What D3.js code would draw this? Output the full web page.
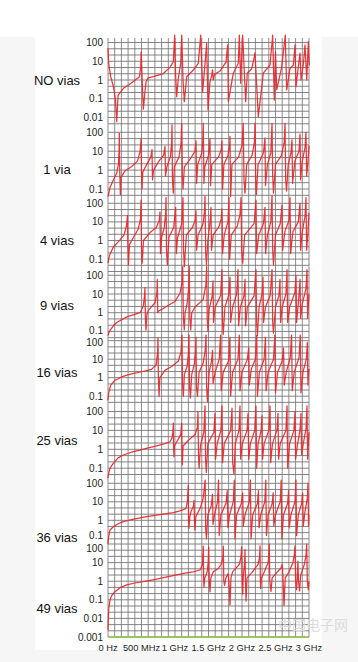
<!DOCTYPE html>
<html><head><meta charset="utf-8">
<script src="https://cdn.jsdelivr.net/npm/d3@7"></script>
<style>
html,body{margin:0;padding:0;background:#f6f6f6;}
svg{display:block;font-family:"Liberation Sans",Arial,Helvetica,sans-serif;}
</style>
</head><body>
<svg id="chart" width="358" height="662"></svg>
<script>
// ---- data (frequency in MHz, impedance magnitude in ohm) ----
const panelNames = ["NO vias","1 via","4 vias","9 vias","16 vias","25 vias","36 vias","49 vias"];
const freqTicks = [0,500,1000,1500,2000,2500,3000];
const freqTickLabels = ["0 Hz","500 MHz","1 GHz","1.5 GHz","2 GHz","2.5 GHz","3 GHz"];

const noVias = [[0,50],[10,8],[40,1.5],[80,0.45],[110,0.1],[130,0.006],[150,0.15],[230,0.36],[350,0.7],[470,1.5],[488,5],[495,32],[510,1],[527,0.028],[567,0.8],[600,1.3],[676,1.5],[825,2.2],[925,4.7],[975,9.5],[995,250],[1010,1.5],[1025,0.13],[1049,1.2],[1085,7.7],[1100,250],[1120,1],[1139,0.07],[1175,1.5],[1273,3.4],[1348,7.8],[1384,250],[1413,0.24],[1473,90],[1493,0.025],[1522,0.8],[1548,1.8],[1560,3.5],[1570,1],[1590,2],[1672,3],[1760,9],[1787,74],[1796,0.07],[1870,2.3],[1945,7.8],[1960,250],[1980,0.67],[2010,250],[2055,0.07],[2079,2.3],[2145,4],[2180,15],[2194,28],[2243,0.011],[2318,2.3],[2418,6.3],[2458,250],[2482,0.085],[2500,32],[2518,0.3],[2593,5],[2646,250],[2667,0.3],[2716,4],[2766,6.3],[2791,74],[2806,0.44],[2840,5],[2866,27],[2881,1],[2915,6.3],[2940,74],[2966,1],[2990,110],[3004,6]];

const oneVia = [[0,0.04],[30,0.12],[80,0.3],[130,0.7],[155,2],[165,10],[169,90],[175,1],[185,0.05],[195,0.4],[250,0.9],[350,1.5],[440,3],[480,10],[493,45],[500,1],[508,0.1],[520,0.8],[580,2],[640,5],[657,12],[664,0.3],[680,1],[760,3],[830,6],[851,18],[858,0.5],[880,1.5],[930,5],[950,30],[955,250],[962,0.3],[975,0.06],[990,1.5],[1060,5],[1090,25],[1100,300],[1110,0.5],[1120,0.1],[1140,1.5],[1230,4],[1300,10],[1313,35],[1322,0.2],[1340,2],[1400,8],[1415,40],[1422,300],[1432,0.2],[1445,1.5],[1500,6],[1522,45],[1530,0.15],[1550,2],[1650,5],[1690,12],[1701,35],[1710,0.1],[1730,2],[1790,6],[1815,20],[1821,60],[1830,0.04],[1850,2],[1950,5],[2000,20],[2019,300],[2030,0.3],[2045,0.06],[2070,2],[2150,6],[2185,30],[2194,300],[2205,0.3],[2215,0.05],[2240,2],[2320,8],[2343,50],[2350,0.15],[2380,2],[2430,8],[2448,300],[2458,0.5],[2470,0.06],[2500,2],[2590,6],[2630,30],[2642,300],[2652,0.3],[2665,0.08],[2690,2],[2730,8],[2746,40],[2755,0.2],[2790,3],[2850,10],[2866,80],[2875,0.3],[2900,3],[2940,15],[2955,100],[2965,0.5],[2985,3],[3000,20]];

const fourVias = [[0,0.06],[20,0.15],[80,0.45],[160,0.9],[240,2],[275,6],[291,22],[297,0.5],[305,0.05],[320,0.6],[380,1.5],[450,4],[485,15],[493,150],[500,0.4],[510,0.06],[530,1],[620,2.5],[720,5],[765,12],[776,35],[783,0.2],[800,1.5],[840,5],[860,30],[866,200],[873,0.3],[885,0.05],[910,1.5],[980,5],[1010,60],[1020,0.2],[1040,1.5],[1100,8],[1119,200],[1127,0.3],[1140,0.04],[1170,2],[1260,5],[1300,12],[1313,40],[1322,0.3],[1345,2],[1420,8],[1440,40],[1448,250],[1458,0.2],[1470,0.05],[1490,1],[1520,8],[1537,60],[1545,0.3],[1570,2],[1660,6],[1690,15],[1701,50],[1710,0.2],[1735,2],[1790,10],[1806,200],[1815,0.1],[1840,2],[1930,6],[1970,25],[1985,200],[1995,0.3],[2010,0.06],[2040,2],[2180,8],[2209,150],[2218,0.2],[2250,2],[2320,8],[2343,60],[2352,0.2],[2380,2],[2430,10],[2448,250],[2458,0.3],[2470,0.05],[2500,2],[2570,8],[2597,80],[2606,0.3],[2640,3],[2700,12],[2716,200],[2726,0.2],[2760,3],[2840,10],[2866,100],[2875,0.3],[2900,3],[2940,20],[2955,200],[2965,0.3],[2985,3],[3000,30]];

const nineVias = [[0,0.06],[20,0.1],[80,0.2],[130,0.3],[280,0.6],[480,1],[527,2.3],[545,8],[552,22],[558,0.5],[567,0.12],[580,0.8],[601,1.3],[701,3.4],[730,12],[736,60],[742,1],[751,1.2],[800,1.5],[900,2.5],[1000,4],[1075,11],[1105,40],[1115,300],[1125,0.5],[1139,0.12],[1150,1],[1180,3],[1205,20],[1213,300],[1222,0.5],[1234,0.12],[1250,1],[1300,2],[1420,5],[1460,30],[1473,300],[1482,0.4],[1492,0.1],[1510,1.5],[1555,8],[1567,50],[1575,0.3],[1600,2],[1680,8],[1701,200],[1710,0.3],[1720,0.07],[1745,2],[1800,8],[1821,80],[1830,0.3],[1860,2],[1920,10],[1940,200],[1950,0.2],[1975,2],[2030,8],[2045,60],[2053,0.2],[2080,2],[2180,8],[2209,200],[2218,0.3],[2230,0.06],[2255,2],[2300,10],[2313,80],[2322,0.3],[2350,2],[2420,8],[2448,200],[2458,0.3],[2470,0.08],[2500,2],[2550,8],[2567,60],[2576,0.3],[2600,2],[2655,10],[2672,200],[2682,0.3],[2710,2],[2790,12],[2806,100],[2815,0.3],[2840,3],[2855,15],[2866,60],[2875,0.5],[2900,3],[2955,20],[2970,200],[2980,0.5],[3000,10]];

const sixteenVias = [[0,0.06],[10,0.15],[40,0.4],[100,0.7],[200,1.1],[350,1.6],[500,2.1],[650,2.8],[720,5],[740,25],[746,140],[752,1],[762,0.1],[775,1],[850,2.5],[950,4],[1050,8],[1090,25],[1104,200],[1112,0.4],[1124,0.1],[1140,1.5],[1180,4],[1200,20],[1209,200],[1218,0.3],[1230,0.08],[1250,1.5],[1290,6],[1305,25],[1313,150],[1321,0.3],[1335,0.1],[1360,2],[1420,6],[1450,30],[1463,200],[1472,0.3],[1485,0.05],[1510,2],[1545,8],[1560,30],[1568,0.5],[1600,2],[1660,10],[1680,200],[1690,0.2],[1720,2],[1800,8],[1820,150],[1830,0.1],[1860,2],[1940,10],[1960,200],[1970,0.2],[2000,2],[2080,10],[2100,40],[2108,0.4],[2140,3],[2200,10],[2220,200],[2230,0.1],[2260,2],[2330,10],[2350,150],[2360,0.2],[2390,2],[2470,10],[2490,200],[2500,0.15],[2530,2],[2600,8],[2620,40],[2630,0.4],[2660,2],[2720,12],[2740,200],[2750,0.2],[2780,2],[2850,12],[2870,200],[2880,0.15],[2910,2],[2960,10],[2975,80],[2985,0.4],[3000,3]];

const twentyFiveVias = [[0,0.03],[4,0.044],[30,0.1],[79,0.18],[150,0.35],[228,0.5],[350,0.7],[478,0.9],[600,1.2],[727,1.5],[850,2],[925,2.5],[955,4],[968,8],[975,24],[980,1],[985,0.4],[992,1.5],[1040,3],[1085,6],[1100,24],[1104,1],[1109,0.15],[1120,1.5],[1200,3],[1300,6],[1335,15],[1343,100],[1350,0.5],[1360,0.1],[1380,1.5],[1430,8],[1448,200],[1456,0.3],[1468,0.06],[1490,2],[1580,8],[1597,80],[1605,0.3],[1630,2],[1685,10],[1701,200],[1710,0.2],[1735,2],[1830,10],[1851,150],[1860,0.2],[1880,0.05],[1900,2],[1955,10],[1970,200],[1980,0.3],[2005,2],[2075,10],[2090,80],[2100,0.3],[2125,2],[2190,10],[2209,200],[2218,0.1],[2240,2],[2285,10],[2298,60],[2306,0.3],[2330,2],[2400,10],[2418,200],[2428,0.2],[2455,2],[2520,10],[2537,80],[2546,0.3],[2570,2],[2655,10],[2672,200],[2682,0.1],[2710,2],[2775,10],[2791,100],[2800,0.3],[2830,2],[2865,10],[2881,80],[2890,0.5],[2915,2],[2955,12],[2970,200],[2980,0.3],[3000,8]];

const thirtySixVias = [[0,0.05],[4,0.1],[30,0.3],[79,0.45],[150,0.65],[228,0.84],[400,1.2],[578,1.6],[800,2.1],[975,2.6],[1100,3.4],[1164,4.4],[1185,10],[1198,80],[1203,1],[1209,0.37],[1220,1.5],[1240,3],[1275,6],[1284,12],[1290,1],[1298,0.3],[1310,1.5],[1380,5],[1420,15],[1450,150],[1458,0.3],[1470,0.1],[1490,2],[1540,6],[1560,25],[1568,0.6],[1590,2],[1635,10],[1650,150],[1660,0.15],[1685,2],[1760,8],[1780,40],[1790,0.4],[1815,2],[1870,10],[1885,150],[1895,0.1],[1920,2],[1990,8],[2010,30],[2020,0.5],[2045,2],[2110,10],[2125,150],[2135,0.1],[2160,2],[2230,8],[2245,40],[2255,0.4],[2280,2],[2340,10],[2355,150],[2365,0.15],[2390,2],[2450,8],[2465,30],[2475,0.5],[2500,2],[2570,10],[2585,150],[2595,0.1],[2620,2],[2680,8],[2695,40],[2705,0.4],[2730,2],[2790,10],[2805,150],[2815,0.15],[2840,2],[2890,8],[2905,30],[2915,0.5],[2940,3],[2975,15],[2985,100],[2993,0.5],[3000,2]];

const fortyNineVias = [[0,0.0024],[10,0.03],[30,0.1],[60,0.18],[104,0.27],[180,0.45],[279,0.63],[400,0.8],[527,0.94],[650,1.15],[776,1.4],[900,1.75],[1025,2.2],[1150,2.7],[1273,3.2],[1373,4],[1410,8],[1422,78],[1428,1],[1433,0.5],[1445,1.5],[1480,3.2],[1495,10],[1503,70],[1512,1],[1522,0.27],[1535,1.5],[1572,3.2],[1650,5],[1690,8],[1715,20],[1721,78],[1728,1],[1740,0.6],[1760,1.5],[1790,2.5],[1805,1],[1821,0.053],[1835,1.5],[1860,3.2],[1960,8],[1985,20],[1995,70],[2002,1],[2010,0.2],[2020,2],[2040,10],[2045,50],[2052,1],[2060,0.085],[2075,1.5],[2150,3],[2240,8],[2262,20],[2269,80],[2274,1],[2279,0.4],[2290,1.5],[2330,3],[2390,10],[2400,25],[2407,100],[2415,1],[2433,0.28],[2450,1.5],[2500,2.5],[2580,5],[2600,8],[2610,2],[2627,0.05],[2645,1.5],[2700,3],[2760,10],[2780,25],[2791,80],[2800,1],[2815,0.35],[2825,2],[2835,12],[2843,1],[2860,0.3],[2875,2],[2930,8],[2955,25],[2966,100],[2975,1],[2990,0.35],[3000,1]];

const series = [noVias, oneVia, fourVias, nineVias, sixteenVias, twentyFiveVias, thirtySixVias, fortyNineVias];
const panelTickValues = [[100,10,1,0.1,0.01],[100,10,1,0.1],[100,10,1,0.1],[100,10,1,0.1],[100,10,1,0.1],[100,10,1,0.1],[100,10,1,0.1],[100,10,1,0.1,0.01,0.001]];

// ---- layout ----
const panelTop = [42.5,132.3,203.3,275.3,340.7,411.5,483.3,544];
const panelDec = [18.75,18.9,18.6,18.7,18.5,18.9,18.5,18.6];
const panelLabelY = [80,169,240,305,372,440,537,608];
const left = 108, right = 309;
const gridTop = 38, gridBottom = 637;

const svg = d3.select("#chart");
svg.append("rect").attr("x",0).attr("y",0).attr("width",358).attr("height",662).attr("fill","#f6f6f6");
svg.append("rect").attr("x",0).attr("y",0).attr("width",358).attr("height",37).attr("fill","#fff");
svg.append("rect").attr("x",35).attr("y",37).attr("width",287).attr("height",613).attr("fill","#fff");

const x = d3.scaleLinear().domain([0,3000]).range([left,right]);

// vertical grid
svg.append("g").selectAll("line").data(d3.range(0,3001,100)).join("line")
  .attr("x1",d=>x(d)).attr("x2",d=>x(d)).attr("y1",gridTop).attr("y2",gridBottom)
  .attr("stroke","#7f7f7f").attr("stroke-width",0.9);

const line = d3.line();
panelNames.forEach((name,i)=>{
  const top = panelTop[i], dec = panelDec[i];
  const y = d3.scaleLog().domain([100,0.1]).range([top, top+3*dec]);
  const limit = i < panelNames.length-1 ? panelTop[i+1]-3 : y(0.001)+0.5;
  const gv = [];
  for (let k=0;k<30;k++){ const v = Math.pow(10, 2 - k/3); if (y(v) <= limit) gv.push(v); }
  const g = svg.append("g");
  g.selectAll("line").data(gv).join("line")
    .attr("x1",left).attr("x2",right).attr("y1",d=>y(d)).attr("y2",d=>y(d))
    .attr("stroke","#767676").attr("stroke-width",0.9);
  const tv = panelTickValues[i];
  const nextTop = i < panelNames.length-1 ? panelTop[i+1] : 1e9;
  const prevBottom = i > 0 ? d3.scaleLog().domain([100,0.1]).range([panelTop[i-1], panelTop[i-1]+3*panelDec[i-1]])(0.1) : -1e9;
  g.selectAll("text").data(tv).join("text")
    .attr("x",103).attr("y",d=>{
      let yy=y(d);
      if (d===0.1 && nextTop - yy < 12) yy -= (12 - (nextTop-yy))/2;
      if (d===100 && yy - prevBottom < 12) yy += (12 - (yy-prevBottom))/2 + (i===7?1:0);
      return yy;})
    .attr("dy","0.35em").attr("text-anchor","end")
    .attr("font-size",10).attr("fill","#222")
    .text(d=>d3.format("~g")(d));
  svg.append("text").attr("x",57).attr("y",panelLabelY[i]).attr("dy","0.35em")
    .attr("text-anchor","middle").attr("font-size",13).attr("fill","#111").text(name);
  if (i===7){
    svg.append("line").attr("x1",left).attr("x2",right).attr("y1",y(0.001)).attr("y2",y(0.001))
      .attr("stroke","#8cc63f").attr("stroke-width",1.6);
  }
});

// curves
panelNames.forEach((name,i)=>{
  const top = panelTop[i], dec = panelDec[i];
  const y = d3.scaleLog().domain([100,0.1]).range([top, top+3*dec]);
  svg.append("path").datum(series[i])
    .attr("d", line.x(d=>x(d[0])).y(d=>y(d[1])))
    .attr("fill","none").attr("stroke","#e5262b").attr("stroke-width",1.25)
    .attr("stroke-linejoin","round").attr("stroke-opacity",0.92);
});

// x axis labels
svg.append("g").selectAll("text").data(freqTicks).join("text")
  .attr("x",d=>x(d)).attr("y",648).attr("dy","0.35em").attr("text-anchor","middle")
  .attr("font-size",9.3).attr("fill","#222")
  .text((d,i)=>freqTickLabels[i]);

// watermark
svg.append("text").attr("x",278).attr("y",630).attr("font-size",14).attr("fill","#dcdcdc")
  .attr("font-family","Noto Sans CJK SC").text("中国电子网");
</script>
</body></html>
